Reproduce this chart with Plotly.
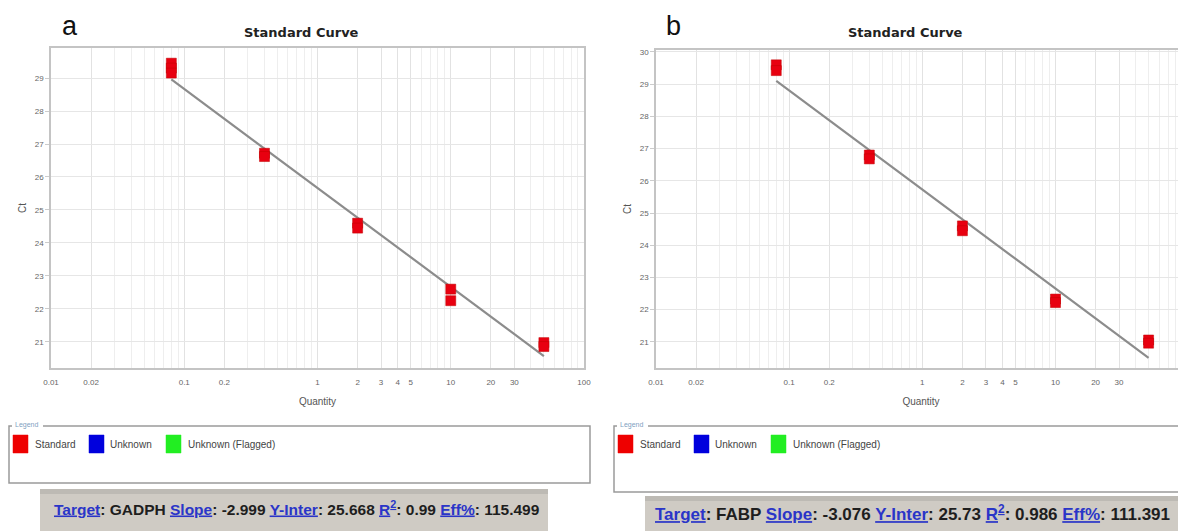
import plotly.graph_objects as go
import numpy as np

# ---------------- data ----------------
qty_a = [0.08, 0.08, 0.08, 0.4, 0.4, 2, 2, 10, 10, 50, 50]
ct_a = [29.45, 29.3, 29.15, 26.72, 26.62, 24.6, 24.45, 22.6, 22.25, 20.98, 20.86]
qty_b = [0.08, 0.08, 0.4, 0.4, 2, 2, 10, 10, 50, 50]
ct_b = [29.6, 29.42, 26.8, 26.68, 24.6, 24.45, 22.33, 22.22, 21.06, 20.96]

slope_a, inter_a, r2_a, eff_a, target_a = -2.999, 25.668, "0.99", "115.499", "GADPH"
slope_b, inter_b, r2_b, eff_b, target_b = -3.076, 25.73, "0.986", "111.391", "FABP"

x_tickvals = [0.01, 0.02, 0.1, 0.2, 1, 2, 3, 4, 5, 10, 20, 30, 100]
x_ticktext = ["0.01", "0.02", "0.1", "0.2", "1", "2", "3", "4", "5", "10", "20", "30", "100"]
y_ticks_a = [21, 22, 23, 24, 25, 26, 27, 28, 29]
y_ticks_b = [21, 22, 23, 24, 25, 26, 27, 28, 29, 30]

legend_items = ["Standard", "Unknown", "Unknown (Flagged)"]
legend_colors = ["#ee0000", "#0000dd", "#22ee22"]

# page body adds an 8px offset; lay out in window pixels and convert
OFF = 8
W, H = 1186 - OFF, 531 - OFF
def px(x):
    return (x - OFF) / W
def py(y):
    return 1 - (y - OFF) / H

fig = go.Figure()

def fit_line(q, slope, inter):
    qs = [min(q), max(q)]
    return qs, [inter + slope * np.log10(v) for v in qs]

marker = dict(symbol="square", size=10, color="#e80010", line=dict(color="#c00000", width=0.5))

# panel a
lx, ly = fit_line(qty_a, slope_a, inter_a)
fig.add_trace(go.Scatter(x=lx, y=ly, mode="lines", line=dict(color="#8c8c8c", width=2.2),
                         xaxis="x", yaxis="y", showlegend=False, hoverinfo="skip"))
fig.add_trace(go.Scatter(x=qty_a, y=ct_a, mode="markers", marker=marker,
                         xaxis="x", yaxis="y", showlegend=False))
# panel b
lx, ly = fit_line(qty_b, slope_b, inter_b)
fig.add_trace(go.Scatter(x=lx, y=ly, mode="lines", line=dict(color="#8c8c8c", width=2.2),
                         xaxis="x2", yaxis="y2", showlegend=False, hoverinfo="skip"))
fig.add_trace(go.Scatter(x=qty_b, y=ct_b, mode="markers", marker=marker,
                         xaxis="x2", yaxis="y2", showlegend=False))

tickfont = dict(family="Liberation Sans", size=8, color="#666666")
titlefont = dict(family="Liberation Sans", size=10, color="#555555")

def xaxis(domain, anchor, rng):
    return dict(type="log", domain=domain, anchor=anchor, range=rng, automargin=False,
                tickmode="array", tickvals=x_tickvals, ticktext=x_ticktext,
                tickfont=tickfont, showgrid=True, gridcolor="#e2e2e2", gridwidth=1,
                minor=dict(dtick="D1", showgrid=True, gridcolor="#eeeeee", gridwidth=1),
                showline=True, linecolor="#c4c4c4", linewidth=1.5, mirror=True,
                ticks="", zeroline=False, ticklabelstandoff=6,
                title=dict(text="Quantity", font=titlefont, standoff=12))

def yaxis(domain, anchor, rng, ticks):
    return dict(domain=domain, anchor=anchor, range=rng, tickmode="array", tickvals=ticks,
                automargin=False,
                tickfont=tickfont, showgrid=True, gridcolor="#e6e6e6", gridwidth=1,
                showline=True, linecolor="#c4c4c4", linewidth=1.5, mirror=True,
                ticks="outside", ticklen=4, tickcolor="#cccccc", zeroline=False,
                title=dict(text="Ct", font=titlefont, standoff=6))

fig.update_layout(
    width=W, height=H, margin=dict(l=0, r=0, t=0, b=0, autoexpand=False),
    paper_bgcolor="white", plot_bgcolor="white",
    xaxis=xaxis([px(51), px(584)], "y", [-2, 2]),
    yaxis=yaxis([py(368), py(48)], "x", [20.21, 29.91], y_ticks_a),
    xaxis2=xaxis([px(656), px(1186)], "y2", [-2, 1.98]),
    yaxis2=yaxis([py(368), py(50)], "x2", [20.19, 30.06], y_ticks_b),
    showlegend=False,
)

shapes = []
annotations = []

# titles and panel labels
for cx, lab, lx_ in [(301, "a", 70), (905, "b", 673)]:
    annotations.append(dict(x=px(cx), y=py(32), xref="paper", yref="paper", text="<b>Standard Curve</b>",
                            showarrow=False, font=dict(family="DejaVu Sans", size=13, color="#222222"),
                            xanchor="center", yanchor="middle"))
    annotations.append(dict(x=px(lx_), y=py(26), xref="paper", yref="paper", text=lab,
                            showarrow=False, font=dict(family="Liberation Sans", size=27, color="#111111"),
                            xanchor="center", yanchor="middle"))

# legend boxes
for (x0, x1, y0, y1) in [(9, 590, 426, 483), (614, 1186, 426, 492)]:
    shapes.append(dict(type="rect", xref="paper", yref="paper", x0=px(x0), x1=px(x1), y0=py(y1), y1=py(y0),
                       line=dict(color="#9a9a9a", width=1.5), fillcolor="rgba(0,0,0,0)"))
    shapes.append(dict(type="rect", xref="paper", yref="paper", x0=px(x0 + 3), x1=px(x0 + 34),
                       y0=py(430), y1=py(420), line=dict(width=0), fillcolor="white"))
    annotations.append(dict(x=px(x0 + 4), y=py(425), xref="paper", yref="paper", text="Legend",
                            showarrow=False, font=dict(family="Liberation Sans", size=7, color="#7f9fbf"),
                            xanchor="left", yanchor="middle"))
    offs = [4, 80, 157]
    toffs = [24, 99, 177]
    for i, (name, col) in enumerate(zip(legend_items, legend_colors)):
        shapes.append(dict(type="rect", xref="paper", yref="paper",
                           x0=px(x0 + offs[i]), x1=px(x0 + offs[i] + 15), y0=py(453), y1=py(435),
                           line=dict(color=col, width=0.5), fillcolor=col))
        annotations.append(dict(x=px(x0 + toffs[i]), y=py(444), xref="paper", yref="paper", text=name,
                                showarrow=False, font=dict(family="Liberation Sans", size=10, color="#444444"),
                                xanchor="left", yanchor="middle"))

# result boxes
def result_text(target, slope, inter, r2, eff):
    blue = "color:#2a35c8"
    return (f"<span style='{blue}'><u>Target</u></span>: {target} "
            f"<span style='{blue}'><u>Slope</u></span>: {slope} "
            f"<span style='{blue}'><u>Y-Inter</u></span>: {inter} "
            f"<span style='{blue}'><u>R<sup>2</sup></u></span>: {r2} "
            f"<span style='{blue}'><u>Eff%</u></span>: {eff}")

for (x0, x1, y0, y1, tx, ty, fs, args) in [
        (40, 548, 489, 531, 297, 508, 15.5, (target_a, slope_a, inter_a, r2_a, eff_a)),
        (645, 1178, 496, 531, 912, 513, 17, (target_b, slope_b, inter_b, r2_b, eff_b))]:
    shapes.append(dict(type="rect", xref="paper", yref="paper", x0=px(x0), x1=px(x1), y0=py(y1), y1=py(y0),
                       line=dict(width=0), fillcolor="#cfcbc4", layer="below"))
    shapes.append(dict(type="rect", xref="paper", yref="paper", x0=px(x0), x1=px(x1), y0=py(y0 + 5), y1=py(y0),
                       line=dict(width=0), fillcolor="#bdbab4", layer="below"))
    annotations.append(dict(x=px(tx), y=py(ty), xref="paper", yref="paper",
                            text="<b>" + result_text(*args) + "</b>", showarrow=False,
                            font=dict(family="Liberation Sans", size=fs, color="#1e1e1e"),
                            xanchor="center", yanchor="middle"))

fig.update_layout(shapes=shapes, annotations=annotations)
fig.write_html("out.html")
